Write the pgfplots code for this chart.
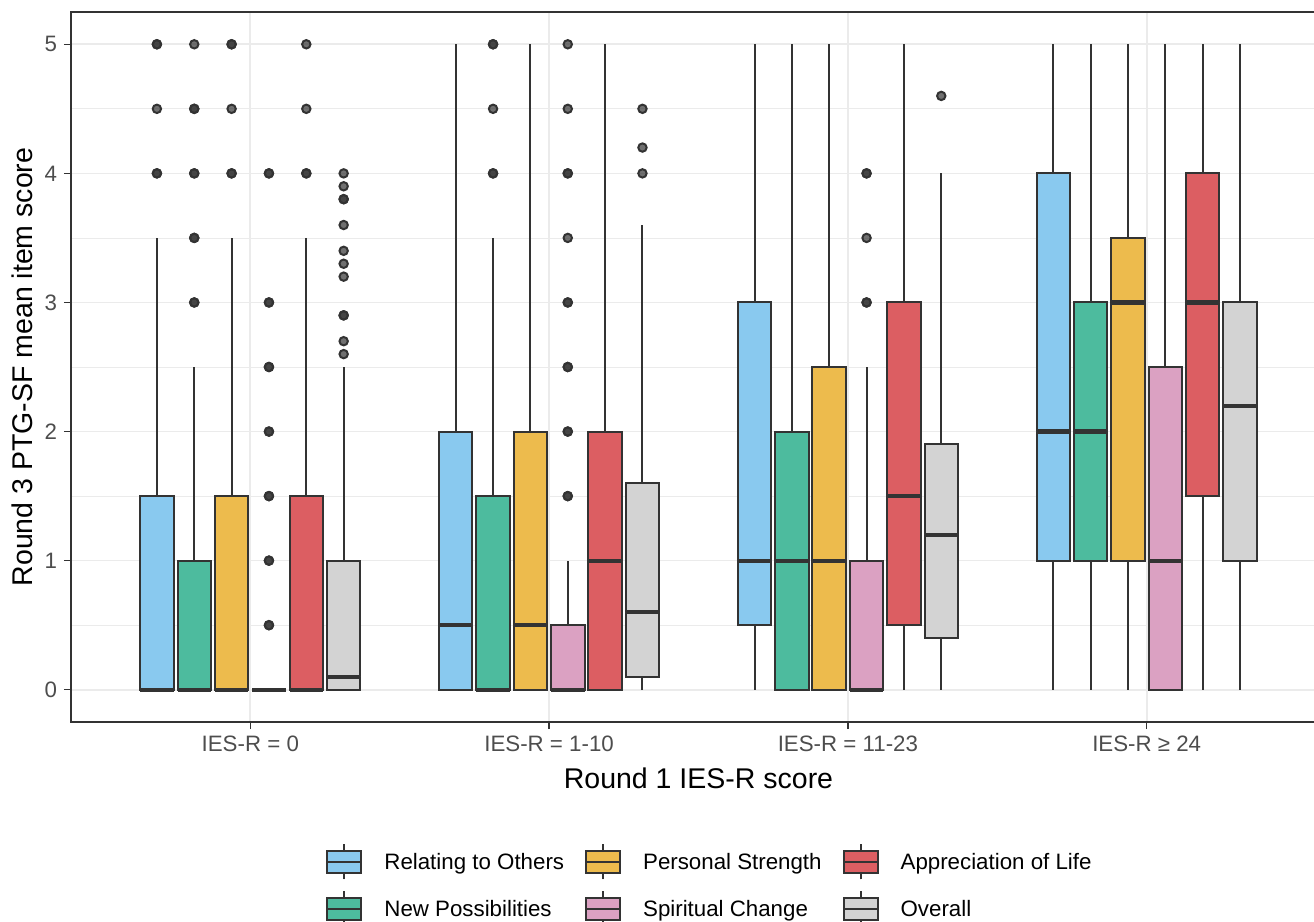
\documentclass[border=0pt]{standalone}
\usepackage{pgfplots}
\pgfplotsset{compat=1.18}
\usepgfplotslibrary{statistics}
\usepackage{fontspec}
\setmainfont{Liberation Sans}
\definecolor{cRel}{HTML}{89C9EF}
\definecolor{cNew}{HTML}{4DBB9E}
\definecolor{cPer}{HTML}{EDBB4D}
\definecolor{cSpi}{HTML}{DBA1C2}
\definecolor{cApp}{HTML}{DC5E62}
\definecolor{cOve}{HTML}{D3D3D3}
\definecolor{c20}{HTML}{333333}
\definecolor{c30}{HTML}{4D4D4D}
\definecolor{g92}{HTML}{EBEBEB}
\pgfplotsset{
  bx/.style={
    forget plot, draw=c20, line width=1pt,
    mark=*, mark size=2.1pt,
    mark options={draw=none, fill=c20, fill opacity=0.7},
    boxplot/draw direction=y,
    boxplot/box extend=0.112,
    boxplot/whisker extend=0,
    boxplot/every whisker/.style={draw=c20, line width=1pt},
    boxplot/every box/.style={draw=c20, line width=1pt},
    boxplot/every median/.style={draw=c20, line width=2.1pt},
  },
  boxleg/.style={legend image code/.code={
     \draw[c20, line width=1pt] (8.5pt,-8.75pt) -- (8.5pt,8.75pt);
     \draw[##1, draw=c20, line width=1pt] (0pt,-5.5pt) rectangle (17pt,5.5pt);
     \draw[c20, line width=1pt] (0pt,0pt) -- (17pt,0pt);
  }},
}
\begin{document}
\begin{tikzpicture}
\begin{axis}[
  scale only axis, width=627.5pt, height=355pt,
  xmin=0.4, xmax=4.6, ymin=-0.25, ymax=5.25,
  axis line style={draw=c20, line width=0.65pt},
  xtick={1,2,3,4},
  xticklabels={IES-R = 0, IES-R = 1-10, IES-R = 11-23, IES-R ≥ 24},
  ytick={0,1,2,3,4,5},
  minor ytick={0.5,1.5,2.5,3.5,4.5},
  grid=both,
  major grid style={draw=g92, line width=0.8pt},
  minor grid style={draw=g92, line width=0.4pt},
  tick pos=left, tick align=outside,
  major tick length=3.5pt, minor tick length=0pt,
  tick style={draw=c20, line width=0.65pt},
  /pgf/number format/assume math mode=true,
  tick label style={font=\fontsize{11.15}{13}\selectfont, text=c30},
  xlabel={Round 1 IES-R score},
  ylabel={Round 3 PTG-SF mean item score},
  every axis y label/.style={at={([xshift=-24.5pt]axis description cs:0,0.5)}, rotate=90, anchor=center, font=\fontsize{14.25}{16}\selectfont, text=black},
  every axis x label/.style={at={([yshift=-33pt]axis description cs:0.5,0)}, anchor=base, font=\fontsize{14.25}{16}\selectfont, text=black},
  boxleg,
  legend columns=3,
  legend cell align=left,
  legend style={draw=none, fill=none, inner sep=0pt,
    at={([xshift=127.5pt,yshift=-60.5pt]axis description cs:0,0)}, anchor=north west,
    font=\fontsize{11.15}{13}\selectfont,
    row sep=5pt,
    /tikz/every even column/.append style={column sep=10.5pt},
    /tikz/every odd column/.append style={column sep=11pt},
    nodes={inner xsep=0pt, text depth=0pt},
  },
]
% ---------- Group 1: IES-R = 0 ----------
\addplot[bx, fill=cRel, boxplot prepared={draw position=0.6875, lower whisker=0, lower quartile=0, median=0, upper quartile=1.5, upper whisker=3.5}]
  table[row sep=\\, y index=0, header=false] {5\\5\\4.5\\4\\4\\};
\addplot[bx, fill=cNew, boxplot prepared={draw position=0.8125, lower whisker=0, lower quartile=0, median=0, upper quartile=1, upper whisker=2.5}]
  table[row sep=\\, y index=0, header=false] {5\\4.5\\4.5\\4\\4\\3.5\\3.5\\3\\3\\};
\addplot[bx, fill=cPer, boxplot prepared={draw position=0.9375, lower whisker=0, lower quartile=0, median=0, upper quartile=1.5, upper whisker=3.5}]
  table[row sep=\\, y index=0, header=false] {5\\5\\4.5\\4\\4\\};
\addplot[bx, fill=cSpi, boxplot prepared={draw position=1.0625, lower whisker=0, lower quartile=0, median=0, upper quartile=0, upper whisker=0}]
  table[row sep=\\, y index=0, header=false] {4\\4\\3\\3\\2.5\\2.5\\2\\2\\1.5\\1.5\\1\\1\\0.5\\0.5\\};
\addplot[bx, fill=cApp, boxplot prepared={draw position=1.1875, lower whisker=0, lower quartile=0, median=0, upper quartile=1.5, upper whisker=3.5}]
  table[row sep=\\, y index=0, header=false] {5\\4.5\\4\\4\\};
\addplot[bx, fill=cOve, boxplot prepared={draw position=1.3125, lower whisker=0, lower quartile=0, median=0.1, upper quartile=1, upper whisker=2.5}]
  table[row sep=\\, y index=0, header=false] {4.0\\3.9\\3.8\\3.8\\3.6\\3.4\\3.3\\3.2\\2.9\\2.9\\2.7\\2.6\\};
% ---------- Group 2: IES-R = 1-10 ----------
\addplot[bx, fill=cRel, boxplot prepared={draw position=1.6875, lower whisker=0, lower quartile=0, median=0.5, upper quartile=2, upper whisker=5}]
  coordinates {};
\addplot[bx, fill=cNew, boxplot prepared={draw position=1.8125, lower whisker=0, lower quartile=0, median=0, upper quartile=1.5, upper whisker=3.5}]
  table[row sep=\\, y index=0, header=false] {5\\5\\4.5\\4\\4\\};
\addplot[bx, fill=cPer, boxplot prepared={draw position=1.9375, lower whisker=0, lower quartile=0, median=0.5, upper quartile=2, upper whisker=5}]
  coordinates {};
\addplot[bx, fill=cSpi, boxplot prepared={draw position=2.0625, lower whisker=0, lower quartile=0, median=0, upper quartile=0.5, upper whisker=1}]
  table[row sep=\\, y index=0, header=false] {5\\4.5\\4\\4\\3.5\\3\\3\\2.5\\2.5\\2\\2\\1.5\\1.5\\};
\addplot[bx, fill=cApp, boxplot prepared={draw position=2.1875, lower whisker=0, lower quartile=0, median=1, upper quartile=2, upper whisker=5}]
  coordinates {};
\addplot[bx, fill=cOve, boxplot prepared={draw position=2.3125, lower whisker=0, lower quartile=0.1, median=0.6, upper quartile=1.6, upper whisker=3.6}]
  table[row sep=\\, y index=0, header=false] {4.5\\4.2\\4.0\\};
% ---------- Group 3: IES-R = 11-23 ----------
\addplot[bx, fill=cRel, boxplot prepared={draw position=2.6875, lower whisker=0, lower quartile=0.5, median=1, upper quartile=3, upper whisker=5}]
  coordinates {};
\addplot[bx, fill=cNew, boxplot prepared={draw position=2.8125, lower whisker=0, lower quartile=0, median=1, upper quartile=2, upper whisker=5}]
  coordinates {};
\addplot[bx, fill=cPer, boxplot prepared={draw position=2.9375, lower whisker=0, lower quartile=0, median=1, upper quartile=2.5, upper whisker=5}]
  coordinates {};
\addplot[bx, fill=cSpi, boxplot prepared={draw position=3.0625, lower whisker=0, lower quartile=0, median=0, upper quartile=1, upper whisker=2.5}]
  table[row sep=\\, y index=0, header=false] {4\\4\\3.5\\3\\3\\};
\addplot[bx, fill=cApp, boxplot prepared={draw position=3.1875, lower whisker=0, lower quartile=0.5, median=1.5, upper quartile=3, upper whisker=5}]
  coordinates {};
\addplot[bx, fill=cOve, boxplot prepared={draw position=3.3125, lower whisker=0, lower quartile=0.4, median=1.2, upper quartile=1.9, upper whisker=4}]
  table[row sep=\\, y index=0, header=false] {4.6\\};
% ---------- Group 4: IES-R >= 24 ----------
\addplot[bx, fill=cRel, boxplot prepared={draw position=3.6875, lower whisker=0, lower quartile=1, median=2, upper quartile=4, upper whisker=5}]
  coordinates {};
\addplot[bx, fill=cNew, boxplot prepared={draw position=3.8125, lower whisker=0, lower quartile=1, median=2, upper quartile=3, upper whisker=5}]
  coordinates {};
\addplot[bx, fill=cPer, boxplot prepared={draw position=3.9375, lower whisker=0, lower quartile=1, median=3, upper quartile=3.5, upper whisker=5}]
  coordinates {};
\addplot[bx, fill=cSpi, boxplot prepared={draw position=4.0625, lower whisker=0, lower quartile=0, median=1, upper quartile=2.5, upper whisker=5}]
  coordinates {};
\addplot[bx, fill=cApp, boxplot prepared={draw position=4.1875, lower whisker=0, lower quartile=1.5, median=3, upper quartile=4, upper whisker=5}]
  coordinates {};
\addplot[bx, fill=cOve, boxplot prepared={draw position=4.3125, lower whisker=0, lower quartile=1, median=2.2, upper quartile=3, upper whisker=5}]
  coordinates {};
% ---------- Legend (row-wise order for 3 columns) ----------
\addlegendimage{fill=cRel}\addlegendentry{Relating to Others}
\addlegendimage{fill=cPer}\addlegendentry{Personal Strength}
\addlegendimage{fill=cApp}\addlegendentry{Appreciation of Life}
\addlegendimage{fill=cNew}\addlegendentry{New Possibilities}
\addlegendimage{fill=cSpi}\addlegendentry{Spiritual Change}
\addlegendimage{fill=cOve}\addlegendentry{Overall}
\end{axis}
\pgfresetboundingbox
\path[use as bounding box] (-35.5pt,-100pt) rectangle (621.5pt,361pt);
\end{tikzpicture}
\end{document}
